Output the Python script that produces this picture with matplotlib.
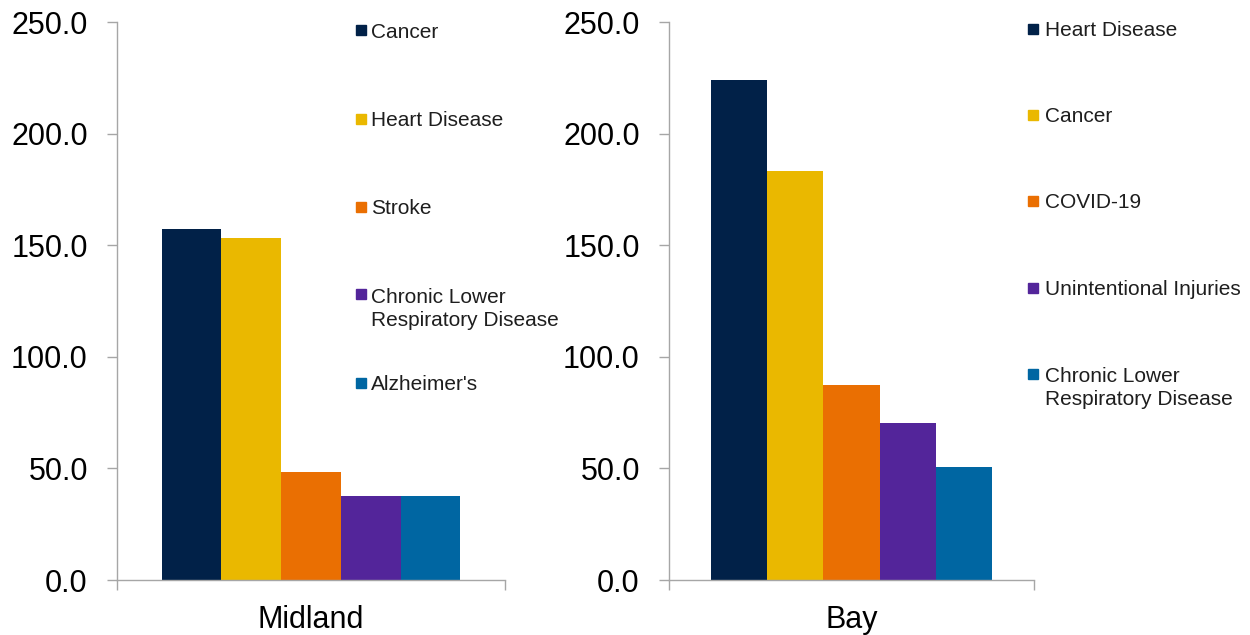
import matplotlib.pyplot as plt
from matplotlib.lines import Line2D
from matplotlib.ticker import FormatStrFormatter

plt.rcParams["font.family"] = ["Liberation Sans", "DejaVu Sans"]

# Leading causes of death, age-adjusted rate per 100,000
midland_causes = ["Cancer", "Heart Disease", "Stroke",
                  "Chronic Lower\nRespiratory Disease", "Alzheimer's"]
midland_rates = [157.3, 153.1, 48.2, 37.5, 37.5]

bay_causes = ["Heart Disease", "Cancer", "COVID-19",
              "Unintentional Injuries", "Chronic Lower\nRespiratory Disease"]
bay_rates = [223.9, 183.1, 87.4, 70.5, 50.8]

counties = ["Midland", "Bay"]
y_ticks = [0, 50, 100, 150, 200, 250]

# rank colours (1st .. 5th)
colors = ["#012148", "#EAB800", "#EA6F02", "#53259A", "#0066A2"]
AXIS_GREY = "#A6A6A6"
TEXT = "#1E1E1E"

W, H = 1250, 635
LINE_PITCH = 24  # px between wrapped legend lines

fig = plt.figure(figsize=(W / 100, H / 100), dpi=100)

panels = [
    # axes box in pixels, legend square x, legend text x, legend line centres
    ((117, 55, 388, 558), midland_causes, midland_rates, 361, 371,
     [30, 118.5, 206.5, 294.5, 382.5]),
    ((669, 55, 365, 558), bay_causes, bay_rates, 1033, 1045,
     [28.5, 115, 201, 287.5, 373.5]),
]

bar_w = 0.154

for (box, causes, rates, sq_x, txt_x, ys), county in zip(panels, counties):
    x0, y0, w, h = box
    ax = fig.add_axes([x0 / W, y0 / H, w / W, h / H])

    for i, (rate, c) in enumerate(zip(rates, colors)):
        ax.bar((i - 2) * bar_w, rate, width=bar_w, color=c, linewidth=0)

    ax.set_xlim(-0.5, 0.5)
    ax.set_ylim(0, 250)
    ax.set_yticks(y_ticks)
    ax.yaxis.set_major_formatter(FormatStrFormatter("%.1f"))

    # boundary ticks on the category axis, label in the middle
    ax.set_xticks([-0.5, 0.5])
    ax.set_xticklabels(["", ""])
    ax.set_xticks([0], minor=True)
    ax.set_xticklabels([county], minor=True)
    ax.tick_params(axis="x", which="major", direction="out", length=7.5,
                   width=1, color=AXIS_GREY)
    ax.tick_params(axis="x", which="minor", length=0, pad=18,
                   labelsize=22, labelcolor="black")
    ax.tick_params(axis="y", direction="out", length=7, width=1,
                   color=AXIS_GREY, pad=14, labelsize=22, labelcolor="black")

    for side in ["top", "right"]:
        ax.spines[side].set_visible(False)
    for side in ["left", "bottom"]:
        ax.spines[side].set_color(AXIS_GREY)
        ax.spines[side].set_linewidth(1)

    # legend entries stacked at a fixed pitch, wrapped names hang downwards
    for cause, c, yc in zip(causes, colors, ys):
        extra = cause.count("\n") * LINE_PITCH
        fig.add_artist(Line2D([sq_x / W], [1 - yc / H], marker="s",
                              markersize=7, color=c, linestyle="none",
                              transform=fig.transFigure))
        fig.text(txt_x / W, 1 - (yc + 7.5 + extra) / H, cause, fontsize=15,
                 color=TEXT, ha="left", va="baseline", linespacing=1.26)

fig.savefig("out.png", dpi=100)
